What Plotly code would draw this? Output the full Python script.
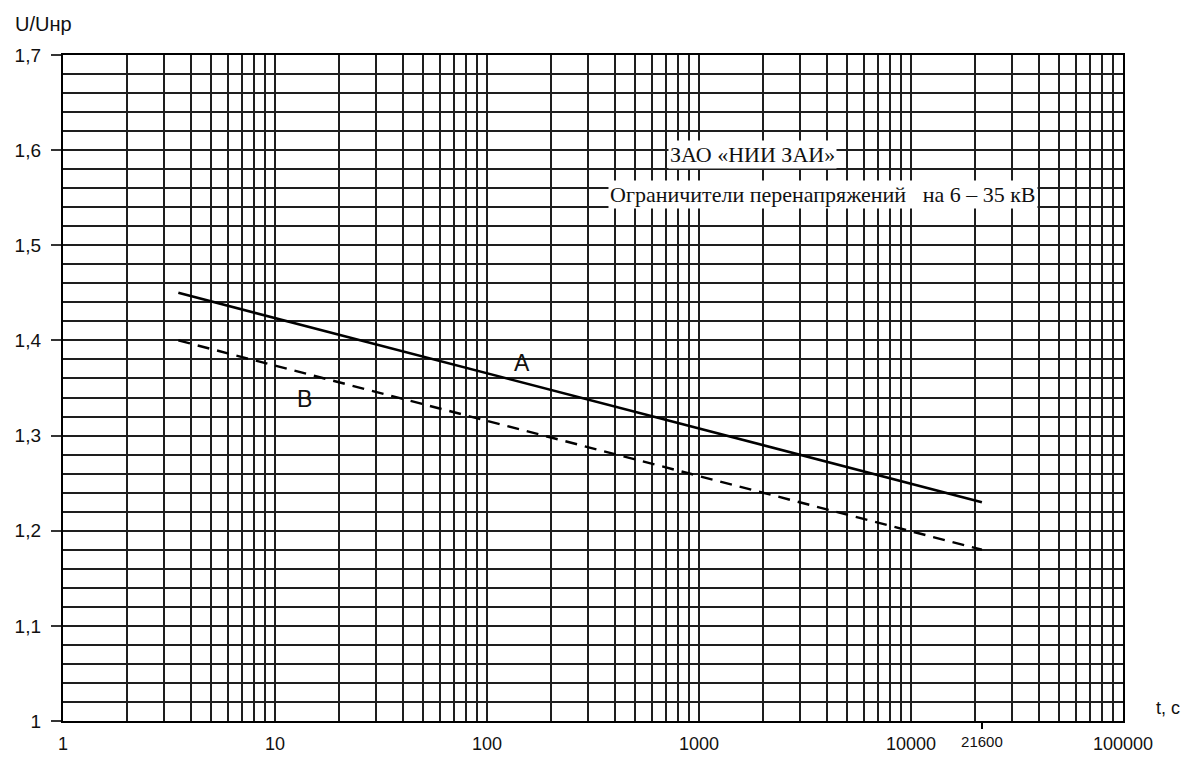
import plotly.graph_objects as go

# ---- data ----
t_A = [3.5, 21600]          # s
u_A = [1.45, 1.23]          # U/Uнр
t_B = [3.5, 21600]
u_B = [1.40, 1.18]

x_decades = [1, 10, 100, 1000, 10000, 100000]
x_decade_labels = ["1", "10", "100", "1000", "10000", "100000"]
x_special = [21600]
x_special_labels = ["21600"]

y_ticks = [1.0, 1.1, 1.2, 1.3, 1.4, 1.5, 1.6, 1.7]
y_tick_labels = ["1", "1,1", "1,2", "1,3", "1,4", "1,5", "1,6", "1,7"]

title_line1 = "ЗАО «НИИ ЗАИ»"
title_line2 = "Ограничители перенапряжений\u00a0\u00a0\u00a0на 6 – 35 кВ"

# log grid values (1..9 per decade)
grid_vals = []
grid_text = []
for d, lab in zip(x_decades[:-1], x_decade_labels[:-1]):
    for m in range(1, 10):
        grid_vals.append(m * d)
        grid_text.append(lab if m == 1 else "")
grid_vals.append(x_decades[-1])
grid_text.append(x_decade_labels[-1])

GRID = "#1e1e1e"
SANS = "Liberation Sans, Arial, sans-serif"
SERIF = "Liberation Serif, Times New Roman, serif"

fig = go.Figure()
fig.add_trace(go.Scatter(x=t_A, y=u_A, mode="lines",
                         line=dict(color="black", width=2.6), showlegend=False))
fig.add_trace(go.Scatter(x=t_B, y=u_B, mode="lines",
                         line=dict(color="black", width=2.4, dash="12px,8px"), showlegend=False))
# helper invisible trace to activate the secondary x axis (21600 mark)
fig.add_trace(go.Scatter(x=x_special, y=[y_ticks[0]], xaxis="x2", mode="markers",
                         marker=dict(opacity=0), hoverinfo="skip", showlegend=False))

fig.update_layout(
    width=1173, height=749,
    margin=dict(l=55, r=58, t=47, b=36, autoexpand=False),
    paper_bgcolor="white", plot_bgcolor="white",
    font=dict(family=SANS, color="#111"),
    xaxis=dict(
        type="log", range=[0, 5], automargin=False,
        tickmode="array", tickvals=grid_vals, ticktext=grid_text,
        showgrid=True, gridcolor=GRID, gridwidth=1.6,
        ticks="", ticklabelstandoff=5,
        tickfont=dict(size=18, family=SANS, color="#111"),
        showline=True, linecolor="black", linewidth=2.4, mirror=True,
        zeroline=False,
    ),
    xaxis2=dict(
        type="log", range=[0, 5], overlaying="x", side="bottom", automargin=False,
        tickmode="array", tickvals=x_special, ticktext=x_special_labels,
        ticks="outside", ticklen=7, tickwidth=2, tickcolor="black",
        tickfont=dict(size=15, family=SANS, color="#111"),
        showgrid=False, showline=False, zeroline=False,
    ),
    yaxis=dict(
        range=[1.0, 1.7], automargin=False,
        tickmode="array", tickvals=y_ticks, ticktext=y_tick_labels,
        showgrid=True, gridcolor=GRID, gridwidth=1.6,
        ticks="outside", ticklen=10, tickwidth=1.5, tickcolor="#333",
        ticklabelstandoff=6,
        tickfont=dict(size=19, family=SANS, color="#111"),
        minor=dict(dtick=0.02, showgrid=True, gridcolor=GRID, gridwidth=1.6, ticks=""),
        showline=True, linecolor="black", linewidth=2.4, mirror=True,
        zeroline=False,
    ),
    annotations=[
        dict(text="U/Uнр", xref="paper", yref="paper", x=-0.047, y=1.046,
             xanchor="left", yanchor="middle", showarrow=False,
             font=dict(size=20, family=SANS, color="#111")),
        dict(text="t, c", xref="paper", yref="paper", x=1.029, y=0.0195,
             xanchor="left", yanchor="middle", showarrow=False,
             font=dict(size=18, family=SANS, color="#111")),
        dict(text="A", xref="paper", yref="paper", x=0.433, y=0.5375,
             xanchor="center", yanchor="middle", showarrow=False,
             font=dict(size=23, family=SANS, color="#111")),
        dict(text="B", xref="paper", yref="paper", x=0.228, y=0.4835,
             xanchor="center", yanchor="middle", showarrow=False,
             font=dict(size=23, family=SANS, color="#111")),
        dict(text=title_line1, xref="paper", yref="paper", x=0.571, y=0.851,
             xanchor="left", yanchor="middle", showarrow=False, bgcolor="white",
             borderpad=1, font=dict(size=22, family=SERIF, color="#111")),
        dict(text=title_line2, xref="paper", yref="paper", x=0.514, y=0.791,
             xanchor="left", yanchor="middle", showarrow=False, bgcolor="white",
             borderpad=1, font=dict(size=22, family=SERIF, color="#111")),
    ],
)

fig.write_html("out.html")
